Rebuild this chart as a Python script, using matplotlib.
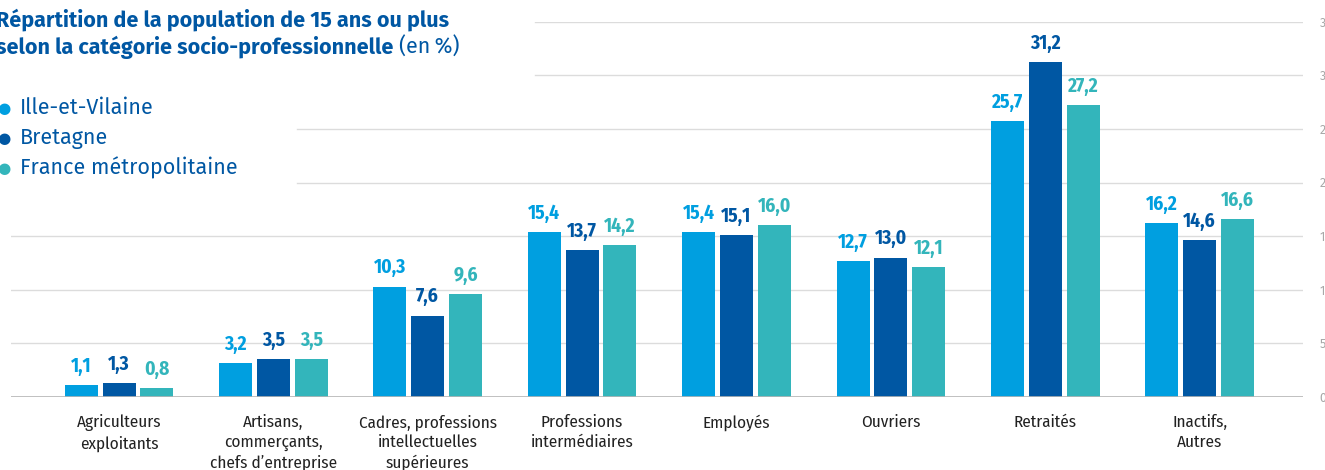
import matplotlib.pyplot as plt
from matplotlib import font_manager as fm
import numpy as np

categories = ["Agriculteurs\nexploitants", "Artisans,\ncommerçants,\nchefs d\u2019entreprise",
              "Cadres, professions\nintellectuelles\nsupérieures", "Professions\nintermédiaires",
              "Employés", "Ouvriers", "Retraités", "Inactifs,\nAutres"]
series = ["Ille-et-Vilaine", "Bretagne", "France métropolitaine"]
ille = [1.1, 3.2, 10.3, 15.4, 15.4, 12.7, 25.7, 16.2]
bretagne = [1.3, 3.5, 7.6, 13.7, 15.1, 13.0, 31.2, 14.6]
france = [0.8, 3.5, 9.6, 14.2, 16.0, 12.1, 27.2, 16.6]
yticks = [0, 5, 10, 15, 20, 25, 30, 35]

colors = ["#009fe0", "#0057a3", "#33b5bb"]

installed = {f.name for f in fm.fontManager.ttflist}


def pick(*names):
    for n in names:
        if n in installed:
            return [n, "DejaVu Sans"]
    return ["DejaVu Sans"]


narrow = pick("Fira Sans Condensed", "Asap Condensed", "Roboto Condensed", "Roboto")
regular = pick("Fira Sans", "Open Sans")

fig = plt.figure(figsize=(13.25, 4.70), dpi=100)
ax = fig.add_axes([11 / 1325, 73 / 470, 1292 / 1325, 375.3 / 470])

x = np.arange(len(categories))
w = 0.214
step = 0.245
for i, (vals, col) in enumerate(zip([ille, bretagne, france], colors)):
    bars = ax.bar(x + (i - 1) * step, vals, width=w, color=col, zorder=3)
    for b, v in zip(bars, vals):
        ax.annotate(f"{v:.1f}".replace(".", ","), (b.get_x() + b.get_width() / 2, v),
                    xytext=(0, 6.5), textcoords="offset points", ha="center", va="bottom",
                    fontsize=14, fontweight="bold", color=col, family=narrow)

# gridlines, hidden behind title and legend at the top left
grid_start = {35: 0.4056, 30: 0.4056, 25: 0.2214, 20: 0.2214}
for t in yticks[1:]:
    ax.axhline(t, xmin=grid_start.get(t, 0), xmax=1, color="#dcdcdc", lw=1, zorder=1)
ax.axhline(0, color="#b5b5b5", lw=1.2, zorder=4)

ax.set_xlim(-0.70, 7.67)
ax.set_ylim(0, 35)
ax.set_xticks(x)
ax.set_xticklabels(categories, fontsize=12.3, color="#222222", family=narrow, linespacing=1.3)
ax.tick_params(axis="x", length=0, pad=12.5)
ax.yaxis.tick_right()
ax.set_yticks(yticks)
ax.tick_params(axis="y", length=0, pad=12, labelsize=9, labelcolor="#a8a8a8")
for lab in ax.get_yticklabels():
    lab.set_family(regular)
for s in ax.spines.values():
    s.set_visible(False)

title_col = "#0057a3"
fig.text(-0.003, 0.958, "Répartition de la population de 15 ans ou plus",
         fontsize=15.5, fontweight="bold", color=title_col, family=regular, va="center")
t2 = fig.text(-0.003, 0.899, "selon la catégorie socio-professionnelle",
              fontsize=15.5, fontweight="bold", color=title_col, family=regular, va="center")
fig.canvas.draw()
bb = t2.get_window_extent()
fig.text(bb.x1 / fig.bbox.width + 0.004, 0.899, "(en\u2009%)", fontsize=15.5, color=title_col,
         family=regular, va="center")

for i, (name, col) in enumerate(zip(series, colors)):
    yy = 0.770 - i * 0.064
    fig.text(0.003, yy, "\u25cf", fontsize=11, color=col, va="center", ha="center")
    fig.text(0.015, yy, name, fontsize=15.5, color=title_col, va="center", family=regular)

fig.savefig("out.png", dpi=100)
